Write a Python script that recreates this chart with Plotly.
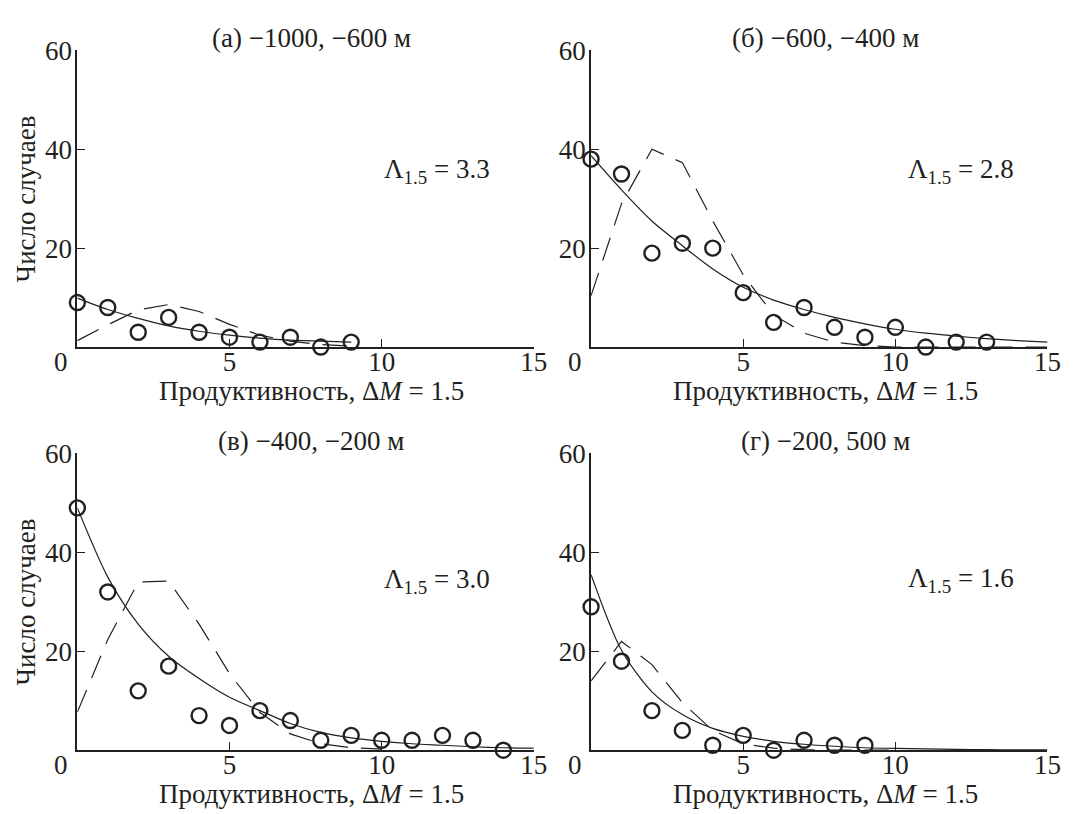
import plotly.graph_objects as go

# ---------------- data ----------------
titles = ["(а) −1000, −600 м", "(б) −600, −400 м", "(в) −400, −200 м", "(г) −200, 500 м"]
lambdas = ["3.3", "2.8", "3.0", "1.6"]

obs_a = [9, 8, 3, 6, 3, 2, 1, 2, 0, 1]
fit_a = [9.9, 7.6, 5.8, 4.3, 3.2, 2.4, 1.8, 1.4, 1.2, 1.0]
pois_a = [1.3, 4.5, 7.5, 8.6, 7.2, 4.6, 2.4, 1.2, 0.5, 0.2]

obs_b = [38, 35, 19, 21, 20, 11, 5, 8, 4, 2, 4, 0, 1, 1]
fit_b = [38.7, 31.8, 25.5, 20.5, 15.8, 12.1, 9.5, 7.6, 6.0, 4.7, 3.6, 2.8, 2.2, 1.7, 1.3, 1.0]
pois_b = [10.4, 29, 40, 37.3, 25.5, 14.6, 6.5, 2.8, 1.0, 0.3, 0, 0, 0, 0, 0, 0]

obs_c = [49, 32, 12, 17, 7, 5, 8, 6, 2, 3, 2, 2, 3, 2, 0]
fit_c = [49, 35, 25.5, 19, 14.5, 10.7, 8.0, 5.4, 3.6, 2.5, 1.8, 1.3, 1.0, 0.7, 0.5, 0.4]
pois_c = [7.7, 22.4, 34, 34.2, 25.5, 15.5, 7.6, 3.3, 1.3, 0.5, 0.2]

obs_d = [29, 18, 8, 4, 1, 3, 0, 2, 1, 1]
fit_d = [35.5, 20.2, 11.8, 7.2, 4.4, 2.8, 1.8, 1.2, 0.8, 0.5, 0.35, 0.25, 0.15, 0.1, 0.07, 0.05]
pois_d = [14, 22, 17.3, 9.6, 4.0, 1.3, 0.4, 0.1, 0, 0, 0]

x_ticks = [5, 10, 15]
y_ticks = [20, 40, 60]
x_title = "Продуктивность, Δ<i>M</i> = 1.5"
y_title = "Число случаев"

panels = [
    (obs_a, fit_a, pois_a),
    (obs_b, fit_b, pois_b),
    (obs_c, fit_c, pois_c),
    (obs_d, fit_d, pois_d),
]

# ---------------- layout geometry ----------------
W, H = 1076, 814
INK = "#231f20"
FONT = "Liberation Serif"
FS = 27

x_dom = [(78.3 / W, 540.3 / W), (598.3 / W, 1060.3 / W)]
y_dom = [(1 - 338.3 / H, 1 - 36 / H), (1 - 749 / H, 1 - 446.7 / H)]
lam_pos = [(10.0, 35.5), (10.35, 35.5), (10.0, 34.2), (10.35, 34.4)]

fig = go.Figure()
annotations = []

for i, (obs, fit, pois) in enumerate(panels):
    col, row = i % 2, i // 2
    n = i + 1
    xa = "x" if n == 1 else f"x{n}"
    ya = "y" if n == 1 else f"y{n}"

    fig.add_trace(go.Scatter(
        x=list(range(len(fit))), y=fit, xaxis=xa, yaxis=ya, mode="lines",
        line=dict(color=INK, width=1.2, shape="spline", smoothing=0.8),
        cliponaxis=False, showlegend=False, hoverinfo="skip"))
    fig.add_trace(go.Scatter(
        x=list(range(len(pois))), y=pois, xaxis=xa, yaxis=ya, mode="lines",
        line=dict(color=INK, width=1.2, dash="24px,13px"),
        cliponaxis=False, showlegend=False, hoverinfo="skip"))
    fig.add_trace(go.Scatter(
        x=list(range(len(obs))), y=obs, xaxis=xa, yaxis=ya, mode="markers",
        marker=dict(symbol="circle-open", size=15, color=INK, line=dict(width=2.4, color=INK)),
        cliponaxis=False, showlegend=False, hoverinfo="skip"))

    axis_common = dict(showline=True, linecolor=INK, linewidth=1.8, ticks="inside",
                       ticklen=8, tickwidth=1.3, tickcolor=INK, showgrid=False, zeroline=False,
                       tickfont=dict(family=FONT, size=FS, color=INK))
    fig.layout[f"xaxis{'' if n == 1 else n}"] = dict(
        domain=x_dom[col], anchor=ya, range=[0, 15], tickvals=x_ticks,
        ticklabelstandoff=-10, **axis_common)
    fig.layout[f"yaxis{'' if n == 1 else n}"] = dict(
        domain=y_dom[row], anchor=xa, range=[0, 60], tickvals=y_ticks,
        ticklabelstandoff=-2, **axis_common)

    xc = (x_dom[col][0] + x_dom[col][1]) / 2 + 6 / W
    # panel title
    annotations.append(dict(text=titles[i], xref="paper", yref="paper", x=xc,
                            y=y_dom[row][1] + 12.5 / H, xanchor="center", yanchor="middle",
                            showarrow=False, font=dict(family=FONT, size=FS, color=INK)))
    # x axis title
    annotations.append(dict(text=x_title, xref="paper", yref="paper", x=xc,
                            y=y_dom[row][0] - 45 / H, xanchor="center", yanchor="middle",
                            showarrow=False, font=dict(family=FONT, size=FS, color=INK)))
    # origin "0" label
    annotations.append(dict(text="0", xref=xa, yref=ya, x=0, y=0, xanchor="center",
                            yanchor="middle", xshift=-16, yshift=-15, showarrow=False,
                            font=dict(family=FONT, size=FS, color=INK)))
    # lambda label
    lx, ly = lam_pos[i]
    annotations.append(dict(text=f"Λ<sub>1.5</sub> = {lambdas[i]}", xref=xa, yref=ya,
                            x=lx, y=ly, xanchor="left", yanchor="middle", showarrow=False,
                            font=dict(family=FONT, size=FS, color=INK)))
    # y axis title (left column only)
    if col == 0:
        annotations.append(dict(text=y_title, xref="paper", yref="paper", x=26 / W,
                                y=(y_dom[row][0] + y_dom[row][1]) / 2, xanchor="center",
                                yanchor="middle", textangle=-90, showarrow=False,
                                font=dict(family=FONT, size=FS, color=INK)))

fig.update_layout(width=W, height=H, margin=dict(l=0, r=0, t=0, b=0),
                  paper_bgcolor="white", plot_bgcolor="white",
                  annotations=annotations, showlegend=False)

fig.write_html("out.html")
